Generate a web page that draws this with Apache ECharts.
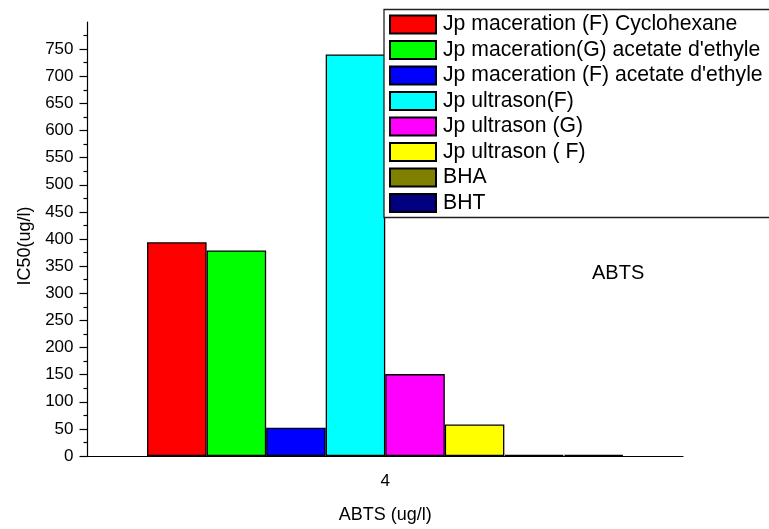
<!DOCTYPE html>
<html>
<head>
<meta charset="utf-8">
<title>ABTS IC50</title>
<script src="https://cdn.jsdelivr.net/npm/echarts@6/dist/echarts.min.js"></script>
<style>
  html, body { margin: 0; padding: 0; background: #ffffff; }
  #chart { width: 769px; height: 529px; }
</style>
</head>
<body>
<div id="chart"></div>
<script>
// Test concentration on the x axis
const categories = ['4'];

// Extract / reference names, in legend order
const seriesNames = [
  'Jp maceration (F) Cyclohexane',
  "Jp maceration(G) acetate d'ethyle",
  "Jp maceration (F) acetate d'ethyle",
  'Jp ultrason(F)',
  'Jp ultrason (G)',
  'Jp ultrason ( F)',
  'BHA',
  'BHT'
];

// IC50 values (ug/l), one per series
const ic50Values = [394, 379, 52, 740, 151, 58, 2, 2];

// Fill colours, one per series
const seriesColors = ['#ff0000', '#00ff00', '#0000ff', '#00ffff', '#ff00ff', '#ffff00', '#808000', '#000080'];

// Y-axis tick labels
const yTicks = [0, 50, 100, 150, 200, 250, 300, 350, 400, 450, 500, 550, 600, 650, 700, 750];

const FONT = "'Liberation Sans', Arial, sans-serif";

const chart = echarts.init(document.getElementById('chart'), null, { renderer: 'canvas' });

const series = seriesNames.map((name, i) => ({
  name: name,
  type: 'bar',
  data: [ic50Values[i]],
  barGap: '0%',
  barCategoryGap: '20%',
  itemStyle: {
    color: seriesColors[i],
    borderColor: '#000000',
    borderWidth: 1.3
  },
  emphasis: { disabled: true }
}));

chart.setOption({
  backgroundColor: '#ffffff',
  animation: false,
  textStyle: { fontFamily: FONT },
  grid: { left: 87.5, right: 86, top: 22, bottom: 65.7, containLabel: false },
  xAxis: {
    type: 'category',
    data: categories,
    boundaryGap: true,
    name: 'ABTS (ug/l)',
    nameLocation: 'middle',
    nameGap: 50,
    nameTextStyle: { fontSize: 18, color: '#000', fontFamily: FONT },
    axisLine: { lineStyle: { color: '#000', width: 1.2 } },
    axisTick: { alignWithLabel: true, length: 8, lineStyle: { color: '#000', width: 1.2 } },
    axisLabel: { fontSize: 17, color: '#000', margin: 17, fontFamily: FONT },
    splitLine: { show: false }
  },
  yAxis: {
    type: 'value',
    min: 0,
    max: 800,
    interval: 50,
    name: 'IC50(ug/l)',
    nameLocation: 'middle',
    nameGap: 46,
    nameTextStyle: { fontSize: 18, color: '#000', fontFamily: FONT, padding: [0, 14, 0, 0] },
    axisLine: { show: true, lineStyle: { color: '#000', width: 1.2 } },
    axisTick: { show: true, length: 8, customValues: yTicks, lineStyle: { color: '#000', width: 1.2 } },
    minorTick: { show: true, splitNumber: 2, length: 4, lineStyle: { color: '#000', width: 1.2 } },
    axisLabel: { fontSize: 17, color: '#000', margin: 14, customValues: yTicks, fontFamily: FONT },
    splitLine: { show: false },
    minorSplitLine: { show: false }
  },
  legend: {
    show: true,
    orient: 'vertical',
    left: 384,
    top: 9.5,
    padding: [4.5, 40, 4, 5],
    itemWidth: 46,
    itemHeight: 18,
    itemGap: 4.5,
    icon: 'rect',
    backgroundColor: '#ffffff',
    borderColor: '#222222',
    borderWidth: 1.3,
    textStyle: { fontSize: 21.2, color: '#000', fontFamily: FONT, padding: [0, 0, 0, 2] },
    selectedMode: false,
    data: seriesNames,
    z: 10
  },
  graphic: [{
    type: 'text',
    left: 592,
    top: 263,
    style: { text: 'ABTS', font: '20px ' + FONT, fill: '#000' }
  }],
  series: series
});
</script>
</body>
</html>
